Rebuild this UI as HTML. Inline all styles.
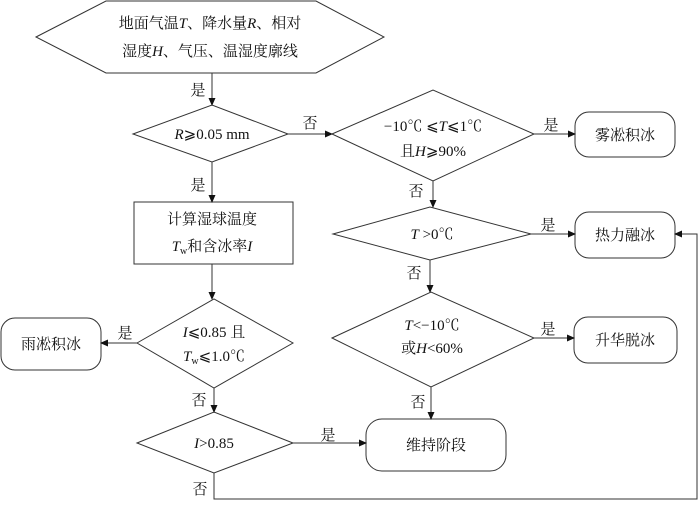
<!DOCTYPE html>
<html><head><meta charset="utf-8"><style>
body{margin:0;background:#fff}
svg text{font-family:"Liberation Serif","Noto Serif CJK SC",serif;font-size:15px;fill:#111}
</style></head><body>
<svg width="700" height="501" viewBox="0 0 700 501" xmlns="http://www.w3.org/2000/svg">
<defs><marker id="a" markerWidth="8" markerHeight="8" refX="7" refY="4" orient="auto" markerUnits="userSpaceOnUse"><path d="M0,0.5 L8,4 L0,7.5z" fill="#111"/></marker></defs>
<g fill="none" stroke="#333" stroke-width="1">
<polygon points="36,37 106,1 316,1 384,37 316,73 106,73"/>
<polygon points="133,134 212,105 288,134 212,162"/>
<polygon points="332,134 433,90 534,134 433,181"/>
<polygon points="333,234 430,207 531,234 430,260"/>
<polygon points="332,338 431,292 534,338 431,387"/>
<polygon points="137,343 214,299 293,343 214,388"/>
<polygon points="137,443 214,412 293,443 214,473"/>
<rect x="134" y="202" width="159" height="62"/>
<rect x="575" y="112" width="100" height="45" rx="14"/>
<rect x="575" y="212" width="100" height="46" rx="14"/>
<rect x="574" y="317" width="103" height="46" rx="14"/>
<rect x="1" y="318" width="100" height="52" rx="14"/>
<rect x="366" y="419" width="140" height="52" rx="16"/>
<g marker-end="url(#a)">
<line x1="212" y1="73" x2="212" y2="105"/>
<line x1="288" y1="134" x2="332" y2="134"/>
<line x1="534" y1="134" x2="575" y2="134"/>
<line x1="433" y1="181" x2="433" y2="207"/>
<line x1="531" y1="234" x2="575" y2="234"/>
<line x1="430" y1="260" x2="430" y2="292"/>
<line x1="534" y1="338" x2="574" y2="338"/>
<line x1="431" y1="387" x2="431" y2="419"/>
<line x1="212" y1="162" x2="212" y2="202"/>
<line x1="212" y1="264" x2="212" y2="299"/>
<line x1="137" y1="343" x2="101" y2="343"/>
<line x1="214" y1="388" x2="214" y2="412"/>
<line x1="293" y1="443" x2="366" y2="443"/>
<polyline points="214,473 214,499 697,499 697,234 675,234"/>
</g>
</g>
<g text-anchor="middle">
<text x="210" y="28">地面气温<tspan font-style="italic">T</tspan>、降水量<tspan font-style="italic">R</tspan>、相对</text>
<text x="210" y="56">湿度<tspan font-style="italic">H</tspan>、气压、温湿度廓线</text>
<text x="212" y="139"><tspan font-style="italic">R</tspan>⩾0.05 mm</text>
<text x="433" y="131">−10℃ ⩽<tspan font-style="italic">T</tspan>⩽1℃</text>
<text x="433" y="156">且<tspan font-style="italic">H</tspan>⩾90%</text>
<text x="432" y="239"><tspan font-style="italic">T</tspan> &gt;0℃</text>
<text x="432" y="330"><tspan font-style="italic">T</tspan>&lt;−10℃</text>
<text x="432" y="353">或<tspan font-style="italic">H</tspan>&lt;60%</text>
<text x="214" y="337"><tspan font-style="italic">I</tspan>⩽0.85 且</text>
<text x="214" y="361"><tspan font-style="italic">T</tspan><tspan font-size="10" dy="3">w</tspan><tspan dy="-3">⩽1.0℃</tspan></text>
<text x="214" y="448"><tspan font-style="italic">I</tspan>&gt;0.85</text>
<text x="212" y="224">计算湿球温度</text>
<text x="212" y="251"><tspan font-style="italic">T</tspan><tspan font-size="10" dy="3">w</tspan><tspan dy="-3">和含冰率</tspan><tspan font-style="italic">I</tspan></text>
<text x="625" y="140">雾凇积冰</text>
<text x="625" y="240">热力融冰</text>
<text x="625" y="345">升华脱冰</text>
<text x="51" y="349">雨凇积冰</text>
<text x="436" y="450">维持阶段</text>
<text x="198" y="95">是</text>
<text x="310" y="128">否</text>
<text x="198" y="190">是</text>
<text x="551" y="130">是</text>
<text x="416" y="196">否</text>
<text x="548" y="230">是</text>
<text x="414" y="278">否</text>
<text x="548" y="334">是</text>
<text x="418" y="407">否</text>
<text x="125" y="338">是</text>
<text x="199" y="405">否</text>
<text x="328" y="440">是</text>
<text x="200" y="494">否</text>
</g>
</svg>
</body></html>
